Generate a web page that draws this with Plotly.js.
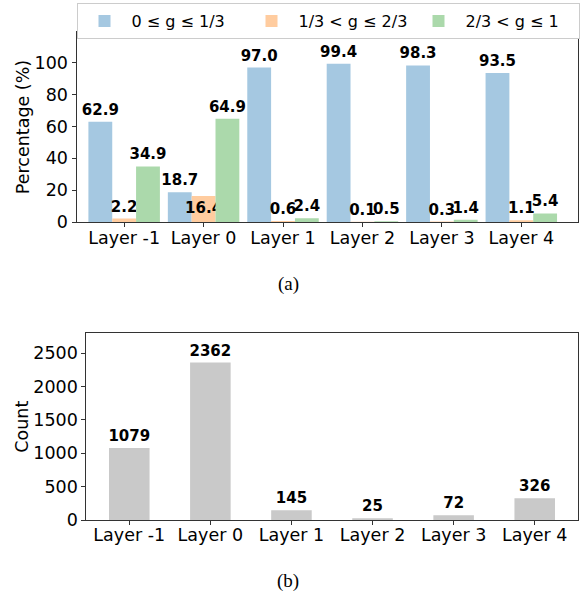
<!DOCTYPE html>
<html>
<head>
<meta charset="utf-8">
<script src="https://cdn.plot.ly/plotly-3.0.1.min.js"></script>
<style>html,body{margin:0;padding:0;background:#fff;}</style>
</head>
<body>
<div id="chart" style="width:583px;height:595px;"></div>
<script>
// ---- data ----
const layers = ['Layer -1', 'Layer 0', 'Layer 1', 'Layer 2', 'Layer 3', 'Layer 4'];
const seriesNames = ['0 ≤ g ≤ 1/3', '1/3 < g ≤ 2/3', '2/3 < g ≤ 1'];
const pctLow  = [62.9, 18.7, 97.0, 99.4, 98.3, 93.5];
const pctMid  = [2.2, 16.4, 0.6, 0.1, 0.3, 1.1];
const pctHigh = [34.9, 64.9, 2.4, 0.5, 1.4, 5.4];
const counts  = [1079, 2362, 145, 25, 72, 326];
const panelLabels = ['(a)', '(b)'];

// ---- styles ----
const colors = ['#a5c8e1', '#ffcc9f', '#abd9ab'];
const grayColor = '#c9c9c9';
const FONT = 'DejaVu Sans, sans-serif';
const W = 583, H = 595;
const px = v => v / W;
const py = v => 1 - v / H;

// the mid series label of Layer 0 sits just inside its bar (as in the reference)
const midPositions = ['outside', 'inside', 'outside', 'outside', 'outside', 'outside'];

const labelFont = {family: FONT, size: 15, color: '#000', weight: 'bold'};
const pctSeries = [pctLow, pctMid, pctHigh];
const traces = pctSeries.map((vals, i) => ({
  type: 'bar',
  name: seriesNames[i],
  x: layers,
  y: vals,
  xaxis: 'x', yaxis: 'y',
  marker: {color: colors[i], line: {width: 0}},
  texttemplate: '%{y:.1f}',
  textposition: i === 1 ? midPositions : 'outside',
  insidetextanchor: 'end',
  textangle: 0,
  constraintext: 'none',
  cliponaxis: false,
  textfont: labelFont,
  insidetextfont: labelFont,
  outsidetextfont: labelFont,
  hoverinfo: 'x+y'
}));
traces.push({
  type: 'bar',
  name: 'Count',
  x: layers,
  y: counts,
  xaxis: 'x2', yaxis: 'y2',
  width: 0.5,
  showlegend: false,
  marker: {color: grayColor, line: {width: 0}},
  texttemplate: '%{y}',
  textposition: 'outside',
  textangle: 0,
  constraintext: 'none',
  cliponaxis: false,
  textfont: labelFont
});

const axisCommon = {
  showline: true, mirror: true, linecolor: '#333', linewidth: 1,
  ticks: 'outside', ticklen: 4, tickwidth: 1, tickcolor: '#333',
  tickfont: {family: FONT, size: 17.5, color: '#000'},
  showgrid: false, zeroline: false, fixedrange: true, automargin: false
};
const titleFont = {family: FONT, size: 17.5, color: '#000'};

const layout = {
  width: W, height: H,
  margin: {l: 0, r: 0, t: 0, b: 0, pad: 0, autoexpand: false},
  paper_bgcolor: '#fff', plot_bgcolor: '#fff',
  font: {family: FONT, color: '#000'},
  barmode: 'group', bargap: 0.1, bargroupgap: 0,
  xaxis: Object.assign({}, axisCommon, {
    domain: [px(76.5), px(577.7)], anchor: 'y', type: 'category',
    range: [-0.6, 5.71], ticklabelstandoff: -4
  }),
  yaxis: Object.assign({}, axisCommon, {
    domain: [py(222), py(32)], anchor: 'x', range: [0, 119.3], dtick: 20,
    title: {text: 'Percentage (%)', font: titleFont, standoff: 0}
  }),
  xaxis2: Object.assign({}, axisCommon, {
    domain: [px(86.3), px(577.7)], anchor: 'y2', type: 'category',
    range: [-0.53, 5.53], ticklabelstandoff: -5
  }),
  yaxis2: Object.assign({}, axisCommon, {
    domain: [py(520), py(333.3)], anchor: 'x2', range: [0, 2800], dtick: 500,
    title: {text: 'Count', font: titleFont, standoff: 0}
  }),
  showlegend: true,
  legend: {
    orientation: 'h', x: px(76.5), xanchor: 'left', y: py(3), yanchor: 'top',
    bgcolor: '#fff', bordercolor: '#cccccc', borderwidth: 1,
    font: {family: FONT, size: 16, color: '#000'},
    itemwidth: 44, entrywidth: 108, entrywidthmode: 'pixels',
    traceorder: 'normal'
  },
  annotations: [
    {text: panelLabels[0], xref: 'paper', yref: 'paper', x: px(288), y: py(284),
     xanchor: 'center', yanchor: 'middle', showarrow: false,
     font: {family: 'Liberation Serif, Times New Roman, serif', size: 19, color: '#000'}},
    {text: panelLabels[1], xref: 'paper', yref: 'paper', x: px(288), y: py(581),
     xanchor: 'center', yanchor: 'middle', showarrow: false,
     font: {family: 'Liberation Serif, Times New Roman, serif', size: 19, color: '#000'}}
  ]
};

Plotly.newPlot('chart', traces, layout, {staticPlot: true, displayModeBar: false});
</script>
</body>
</html>
